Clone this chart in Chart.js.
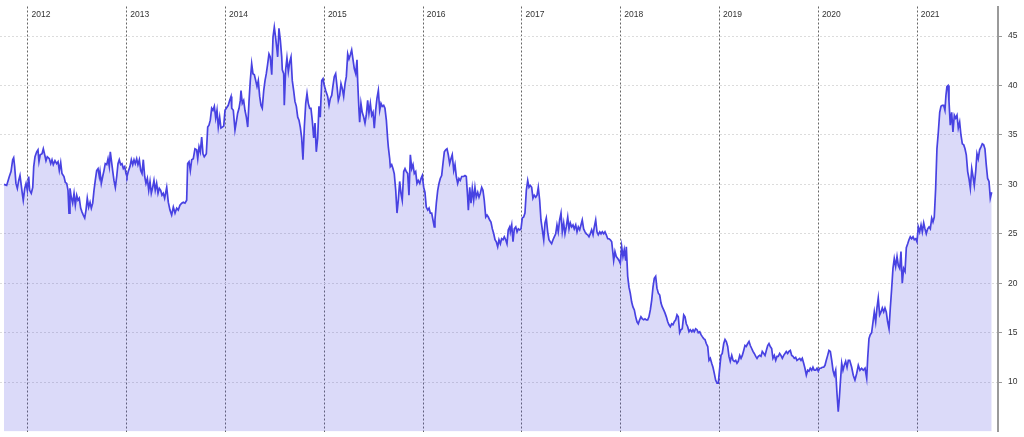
<!DOCTYPE html>
<html>
<head>
<meta charset="utf-8">
<script src="https://cdn.jsdelivr.net/npm/chart.js@4.4.1/dist/chart.umd.min.js"></script>
<style>
  html, body { margin: 0; padding: 0; background: #ffffff; }
  #wrap { width: 1024px; height: 437px; }
</style>
</head>
<body>
<div id="wrap"><canvas id="c" width="1024" height="437"></canvas></div>
<script>
// ---- Data: [decimal year, price] ----
const p2011_2013 = [
[2011.757,30.0],[2011.784,29.9],[2011.811,30.8],[2011.828,31.3],[2011.845,32.5],[2011.855,32.7],[2011.865,31.8],[2011.878,30.1],[2011.892,29.6],[2011.906,30.4],[2011.919,30.9],[2011.932,29.9],[2011.942,29.1],[2011.952,28.4],[2011.967,29.6],[2011.980,30.1],[2011.993,29.4],
[2012.007,30.8],[2012.017,29.4],[2012.033,29.1],[2012.048,29.7],[2012.058,31.8],[2012.071,32.8],[2012.088,33.3],[2012.101,33.5],[2012.111,32.3],[2012.124,33.0],[2012.142,33.1],[2012.155,33.6],[2012.169,33.0],[2012.182,32.4],[2012.195,32.8],[2012.216,32.6],[2012.230,32.1],[2012.243,32.5],[2012.256,32.0],[2012.273,32.4],[2012.290,32.1],[2012.304,32.3],[2012.317,31.4],[2012.331,32.2],[2012.344,31.1],[2012.364,30.8],[2012.378,30.2],[2012.392,30.1],[2012.405,29.4],[2012.415,27.1],[2012.425,29.6],[2012.438,28.7],[2012.452,28.1],[2012.466,29.1],[2012.479,27.9],[2012.493,28.9],[2012.506,28.4],[2012.519,28.6],[2012.533,27.6],[2012.547,27.2],[2012.560,26.9],[2012.574,26.6],[2012.587,27.4],[2012.600,28.6],[2012.614,27.7],[2012.628,28.2],[2012.641,27.6],[2012.655,28.1],[2012.668,29.4],[2012.681,30.4],[2012.695,31.4],[2012.709,31.6],[2012.722,30.8],[2012.729,31.3],[2012.742,30.1],[2012.756,30.8],[2012.769,31.4],[2012.782,32.1],[2012.797,32.0],[2012.810,32.6],[2012.823,31.8],[2012.833,33.3],[2012.843,32.5],[2012.857,31.4],[2012.870,30.4],[2012.884,29.7],[2012.898,30.8],[2012.911,32.1],[2012.924,32.5],[2012.938,32.0],[2012.951,32.1],[2012.965,31.6],[2012.979,31.8],[2012.992,31.1]
];
const p2013_2015 = [
[2013.002,30.8],[2013.015,31.3],[2013.032,31.8],[2013.046,32.5],[2013.060,32.0],[2013.073,32.5],[2013.086,32.1],[2013.100,32.6],[2013.113,32.0],[2013.127,32.5],[2013.141,31.4],[2013.154,31.1],[2013.167,32.5],[2013.181,30.8],[2013.194,30.1],[2013.208,30.6],[2013.222,29.4],[2013.235,30.3],[2013.248,29.1],[2013.262,29.7],[2013.275,30.4],[2013.288,29.4],[2013.302,30.1],[2013.316,29.1],[2013.329,29.6],[2013.343,29.4],[2013.356,28.9],[2013.369,29.1],[2013.383,28.6],
[2013.404,29.7],[2013.420,28.2],[2013.437,27.4],[2013.454,26.9],[2013.471,27.7],[2013.488,27.1],[2013.505,27.6],[2013.521,27.4],[2013.538,27.9],[2013.556,28.1],[2013.572,28.2],[2013.589,28.1],[2013.606,28.4],[2013.616,32.1],[2013.630,32.3],[2013.643,31.4],[2013.657,32.5],[2013.673,32.6],[2013.690,33.6],[2013.707,33.5],[2013.718,32.6],[2013.731,33.8],[2013.744,33.3],[2013.758,34.8],[2013.771,33.1],[2013.784,32.8],[2013.805,33.1],[2013.819,35.8],[2013.832,36.0],[2013.845,36.5],[2013.859,37.7],[2013.872,37.5],[2013.886,37.9],[2013.900,36.7],[2013.913,37.5],[2013.926,35.8],[2013.940,36.8],[2013.953,35.7],[2013.967,35.8],[2013.981,35.9],[2013.994,37.5],
[2014.007,37.7],[2014.027,38.0],[2014.041,38.5],[2014.055,38.9],[2014.062,37.7],[2014.078,37.5],[2014.095,35.5],[2014.108,36.3],[2014.122,37.2],[2014.136,37.7],[2014.149,38.5],[2014.156,39.5],[2014.169,38.2],[2014.183,38.5],[2014.196,37.5],[2014.210,36.8],[2014.224,35.8],[2014.237,38.4],[2014.250,40.5],[2014.264,42.2],[2014.277,41.2],[2014.291,41.1],[2014.305,40.5],[2014.318,39.9],[2014.331,40.5],[2014.345,38.9],[2014.358,38.0],[2014.371,37.7],[2014.386,39.5],[2014.399,40.5],[2014.412,41.2],[2014.426,42.2],[2014.439,43.2],[2014.452,42.9],[2014.467,41.1],[2014.480,44.9],[2014.493,45.9],[2014.507,44.8],[2014.520,43.6],[2014.527,42.9],[2014.540,45.8],[2014.554,44.6],[2014.568,42.9],[2014.574,41.6],[2014.588,41.2],[2014.594,38.0],[2014.608,41.6],[2014.621,42.8],[2014.635,41.4],[2014.649,42.4],[2014.662,42.9],[2014.675,40.5],[2014.689,39.5],[2014.702,38.4],[2014.716,37.9],[2014.730,36.8],[2014.743,36.5],[2014.756,35.8],[2014.770,34.7],[2014.783,32.5],[2014.797,35.8],[2014.811,38.2],[2014.824,39.2],[2014.837,38.2],[2014.851,37.7],[2014.864,37.7],[2014.877,36.5],[2014.892,34.7],[2014.905,36.2],[2014.918,33.3],[2014.932,34.7],[2014.945,37.9],[2014.958,36.8],[2014.973,40.5],[2014.986,40.7],[2014.999,40.0]
];
const p2015_2017 = [
[2015.013,39.5],[2015.033,38.9],[2015.047,38.0],[2015.060,38.7],[2015.074,39.0],[2015.087,40.0],[2015.100,40.9],[2015.114,41.2],[2015.128,39.9],[2015.141,38.5],[2015.155,39.0],[2015.168,40.2],[2015.181,39.7],[2015.195,38.9],[2015.209,40.2],[2015.222,40.9],[2015.236,43.2],[2015.249,42.7],[2015.262,43.1],[2015.276,43.6],[2015.290,42.6],[2015.303,41.7],[2015.317,41.2],[2015.330,42.6],[2015.337,40.4],[2015.350,37.5],[2015.357,36.3],[2015.370,38.2],[2015.383,37.3],[2015.398,36.8],[2015.411,36.2],[2015.424,37.0],[2015.438,38.5],[2015.451,37.2],[2015.465,38.2],[2015.479,37.0],[2015.492,37.3],[2015.505,35.7],[2015.519,37.5],[2015.532,38.7],[2015.546,39.5],[2015.560,37.5],[2015.573,38.2],[2015.586,37.9],[2015.600,38.0],[2015.613,37.7],[2015.627,36.5],[2015.641,34.5],[2015.647,33.8],[2015.661,32.6],[2015.667,31.8],[2015.681,32.0],[2015.694,31.6],[2015.707,31.1],[2015.722,29.4],[2015.735,27.1],[2015.748,28.4],[2015.762,30.3],[2015.775,29.1],[2015.788,28.4],[2015.803,31.3],[2015.816,31.6],[2015.829,31.3],[2015.843,31.1],[2015.856,28.9],[2015.870,33.0],[2015.884,31.6],[2015.897,32.0],[2015.910,31.1],[2015.924,31.3],[2015.937,30.1],[2015.950,30.4],[2015.965,30.1],[2015.978,30.6],[2015.991,30.9],
[2016.005,29.7],[2016.018,29.2],[2016.031,27.7],[2016.046,27.4],[2016.059,27.6],[2016.072,27.1],[2016.086,27.1],[2016.099,26.4],[2016.112,25.7],[2016.119,26.4],[2016.133,28.1],[2016.147,29.4],[2016.160,30.1],[2016.173,30.6],[2016.187,30.9],[2016.200,32.1],[2016.214,33.3],[2016.228,33.5],[2016.241,33.6],[2016.254,33.0],[2016.268,32.1],[2016.281,32.6],[2016.294,33.0],[2016.309,31.4],[2016.322,32.0],[2016.335,30.8],[2016.349,30.1],[2016.362,30.6],[2016.375,30.4],[2016.390,30.8],[2016.410,30.8],[2016.423,30.9],[2016.436,30.8],[2016.450,28.7],[2016.457,27.4],[2016.471,29.7],[2016.484,28.1],[2016.497,29.6],[2016.511,28.4],[2016.524,29.7],[2016.537,28.7],[2016.552,29.2],[2016.565,28.7],[2016.578,29.1],[2016.592,29.7],[2016.605,29.4],[2016.618,28.4],[2016.633,26.7],[2016.646,26.9],[2016.659,26.7],[2016.673,26.4],[2016.686,26.2],[2016.700,25.5],[2016.714,25.0],[2016.727,24.4],[2016.740,24.2],[2016.754,23.7],[2016.767,24.4],[2016.781,24.0],[2016.794,24.5],[2016.808,24.4],[2016.821,24.7],[2016.835,24.4],[2016.848,24.0],[2016.861,25.4],[2016.875,25.7],[2016.882,25.2],[2016.896,25.9],[2016.909,24.2],[2016.922,25.5],[2016.937,25.7],[2016.950,25.2],[2016.963,25.5],[2016.977,25.4],[2016.990,25.5]
];
const p2017_2019 = [
[2017.003,26.6],[2017.017,26.7],[2017.030,27.1],[2017.044,29.4],[2017.058,30.4],[2017.071,29.7],[2017.084,29.9],[2017.098,29.7],[2017.111,28.6],[2017.124,28.9],[2017.139,28.7],[2017.152,28.9],[2017.165,29.7],[2017.179,28.4],[2017.192,26.4],[2017.206,25.4],[2017.220,24.4],[2017.233,26.1],[2017.246,26.6],[2017.260,25.2],[2017.273,24.4],[2017.286,24.2],[2017.300,24.0],[2017.314,24.4],[2017.327,24.7],[2017.341,25.0],[2017.354,25.9],[2017.367,25.2],[2017.381,26.4],[2017.395,27.1],[2017.408,25.2],[2017.422,26.1],[2017.435,25.0],[2017.448,25.7],[2017.463,26.7],[2017.476,25.5],[2017.489,26.1],[2017.503,25.7],[2017.516,25.9],[2017.529,25.5],[2017.544,25.9],[2017.557,25.2],[2017.570,25.7],[2017.584,25.4],[2017.597,25.9],[2017.610,26.4],[2017.624,25.5],[2017.638,25.2],[2017.651,25.0],[2017.665,24.9],[2017.678,24.7],[2017.691,25.0],[2017.705,25.4],[2017.719,24.9],[2017.732,25.7],[2017.746,26.4],[2017.759,25.2],[2017.772,24.9],[2017.787,25.2],[2017.800,25.0],[2017.813,25.2],[2017.827,25.0],[2017.840,25.2],[2017.853,24.9],[2017.868,24.5],[2017.881,24.5],[2017.894,24.4],[2017.908,24.2],[2017.921,23.0],[2017.928,22.3],[2017.941,23.2],[2017.954,22.7],[2017.969,22.5],[2017.982,22.3],[2017.995,22.0],
[2018.009,23.7],[2018.022,22.7],[2018.035,23.4],[2018.050,22.3],[2018.056,23.7],[2018.070,20.7],[2018.083,19.6],[2018.096,19.0],[2018.110,18.1],[2018.123,17.6],[2018.137,17.3],[2018.151,16.6],[2018.164,16.1],[2018.177,15.9],[2018.191,16.3],[2018.204,16.6],[2018.218,16.4],[2018.232,16.3],[2018.245,16.4],[2018.258,16.3],[2018.272,16.3],[2018.285,16.6],[2018.299,17.3],[2018.313,18.3],[2018.326,19.6],[2018.339,20.5],[2018.353,20.7],[2018.366,19.5],[2018.380,19.0],[2018.394,18.8],[2018.407,18.0],[2018.420,17.6],[2018.434,17.3],[2018.447,17.0],[2018.461,16.6],[2018.475,16.1],[2018.488,15.8],[2018.501,15.6],[2018.515,15.9],[2018.528,15.8],[2018.541,16.1],[2018.556,16.3],[2018.569,16.8],[2018.582,16.6],[2018.596,15.0],[2018.609,15.3],[2018.622,15.4],[2018.637,16.8],[2018.650,16.6],[2018.663,15.9],[2018.677,15.6],[2018.690,15.1],[2018.703,15.3],[2018.718,15.1],[2018.731,15.3],[2018.744,15.1],[2018.758,15.4],[2018.771,15.3],[2018.784,15.0],[2018.799,15.1],[2018.812,14.8],[2018.825,14.6],[2018.839,14.4],[2018.852,14.3],[2018.865,13.9],[2018.880,13.6],[2018.893,12.2],[2018.906,12.4],[2018.920,11.9],[2018.933,11.5],[2018.946,10.9],[2018.960,10.2],[2018.974,9.9],[2018.987,9.9]
];
const p2019_2021 = [
[2019.001,11.4],[2019.014,12.7],[2019.027,12.9],[2019.042,13.9],[2019.055,14.3],[2019.068,14.1],[2019.082,13.6],[2019.095,12.6],[2019.108,12.1],[2019.123,12.7],[2019.136,12.2],[2019.149,12.1],[2019.163,12.2],[2019.176,11.9],[2019.189,12.1],[2019.204,12.7],[2019.217,12.4],[2019.230,12.7],[2019.244,13.2],[2019.257,13.7],[2019.270,13.6],[2019.285,13.9],[2019.298,14.1],[2019.311,13.7],[2019.325,13.4],[2019.338,13.1],[2019.351,12.9],[2019.366,12.6],[2019.379,12.4],[2019.392,12.6],[2019.406,12.7],[2019.419,12.6],[2019.432,13.1],[2019.447,12.9],[2019.460,12.7],[2019.473,13.2],[2019.487,13.7],[2019.500,13.9],[2019.513,13.6],[2019.527,13.4],[2019.540,12.4],[2019.554,12.7],[2019.568,12.2],[2019.581,12.6],[2019.594,12.6],[2019.608,12.9],[2019.621,12.7],[2019.635,12.4],[2019.649,12.7],[2019.662,12.9],[2019.675,13.1],[2019.689,12.9],[2019.702,13.1],[2019.716,13.2],[2019.730,12.7],[2019.743,12.6],[2019.756,12.4],[2019.770,12.5],[2019.783,12.2],[2019.797,12.3],[2019.811,12.4],[2019.824,12.2],[2019.837,12.4],[2019.851,11.9],[2019.864,11.4],[2019.878,10.7],[2019.892,11.2],[2019.905,11.1],[2019.918,11.4],[2019.932,11.2],[2019.945,11.5],[2019.958,11.2],[2019.973,11.2],[2019.986,11.4],[2019.999,11.1],
[2020.013,11.4],[2020.026,11.4],[2020.039,11.5],[2020.054,11.5],[2020.067,11.7],[2020.080,12.2],[2020.094,12.7],[2020.107,13.2],[2020.121,13.1],[2020.135,12.2],[2020.148,11.2],[2020.161,10.7],[2020.175,11.2],[2020.188,8.9],[2020.201,7.0],[2020.211,8.2],[2020.222,9.9],[2020.236,11.9],[2020.249,11.2],[2020.262,11.7],[2020.276,12.1],[2020.290,11.5],[2020.303,12.2],[2020.317,12.2],[2020.337,11.5],[2020.353,10.7],[2020.370,10.2],[2020.388,10.9],[2020.404,11.7],[2020.421,11.2],[2020.438,11.4],[2020.454,11.2],[2020.472,11.4],[2020.489,10.4],[2020.499,12.4],[2020.512,14.4],[2020.525,14.8],[2020.539,15.0],[2020.553,16.1],[2020.566,17.1],[2020.580,16.1],[2020.593,17.5],[2020.606,18.5],[2020.620,16.8],[2020.634,17.1],[2020.647,17.5],[2020.661,17.1],[2020.674,17.5],[2020.687,17.1],[2020.701,16.1],[2020.715,15.4],[2020.728,17.5],[2020.742,19.5],[2020.755,21.5],[2020.768,22.5],[2020.782,21.7],[2020.796,22.7],[2020.809,21.8],[2020.823,21.5],[2020.836,23.2],[2020.849,20.0],[2020.863,21.5],[2020.877,21.2],[2020.890,23.6],[2020.904,24.0],[2020.917,24.4],[2020.930,24.7],[2020.944,24.5],[2020.958,24.7],[2020.971,24.4],[2020.985,24.5],[2020.998,24.2],
[2021.011,25.7],[2021.025,25.2],[2021.039,25.9],[2021.052,25.2],[2021.066,26.1],[2021.079,25.5],[2021.092,25.0],[2021.106,25.5],[2021.120,25.7],[2021.133,25.5],[2021.147,26.6],[2021.160,26.2],[2021.173,26.7],[2021.187,29.6],[2021.200,33.6],[2021.214,35.3],[2021.228,37.3],[2021.241,37.9],[2021.254,38.0],[2021.268,38.0],[2021.281,37.5],[2021.291,39.0],[2021.301,39.9],[2021.312,40.0],[2021.322,38.4],[2021.335,36.0],[2021.349,37.3],[2021.362,35.3],[2021.376,37.0],[2021.390,36.7],[2021.403,37.0],[2021.416,35.7],[2021.430,36.3],[2021.443,35.0],[2021.457,34.1],[2021.471,34.0],[2021.484,33.6],[2021.497,33.0],[2021.511,31.3],[2021.524,30.6],[2021.538,29.6],[2021.552,31.6],[2021.565,30.8],[2021.578,29.9],[2021.592,31.3],[2021.605,33.1],[2021.618,32.6],[2021.632,33.5],[2021.646,33.8],[2021.659,34.1],[2021.673,34.0],[2021.686,33.6],[2021.699,32.0],[2021.713,30.6],[2021.727,30.3],[2021.740,28.6],[2021.754,29.2]
];

const yearTicks  = [2012, 2013, 2014, 2015, 2016, 2017, 2018, 2019, 2020, 2021];
const priceTicks = [10, 15, 20, 25, 30, 35, 40, 45];
const xRange = [2011.7166, 2021.818];
const yRange = [5, 48];

const series = [].concat(p2011_2013, p2013_2015, p2015_2017, p2017_2019, p2019_2021)
  .map(([x, y]) => ({ x, y }));

const FONT = '"Liberation Sans", Arial, Helvetica, sans-serif';

const yearLabels = {
  id: 'yearLabels',
  afterDatasetsDraw(chart) {
    const xs = chart.scales.x;
    const ctx = chart.ctx;
    ctx.save();
    ctx.font = '8.5px ' + FONT;
    ctx.fillStyle = '#333333';
    ctx.textAlign = 'left';
    ctx.textBaseline = 'middle';
    yearTicks.forEach(y => {
      const px = xs.getPixelForValue(y);
      ctx.fillText(String(y), px + 3.5, chart.chartArea.top + 8.3);
    });
    ctx.restore();
  }
};

function noPad(s) {
  s.paddingTop = 0; s.paddingBottom = 0; s.paddingLeft = 0; s.paddingRight = 0;
}

new Chart(document.getElementById('c'), {
  type: 'line',
  data: {
    datasets: [{
      data: series,
      borderColor: '#4842e2',
      borderWidth: 1.7,
      backgroundColor: 'rgba(75, 70, 225, 0.2)',
      fill: 'start',
      pointRadius: 0,
      tension: 0
    }]
  },
  options: {
    responsive: false,
    animation: false,
    devicePixelRatio: 1,
    layout: { padding: { left: 0, right: 0, top: 6.5, bottom: 5.5 } },
    plugins: { legend: { display: false }, tooltip: { enabled: false } },
    scales: {
      x: {
        type: 'linear',
        min: xRange[0],
        max: xRange[1],
        afterBuildTicks: s => { s.ticks = yearTicks.map(v => ({ value: v })); },
        afterFit: s => { s.height = 0; noPad(s); },
        ticks: { display: false },
        grid: { color: '#666666', lineWidth: 1, drawTicks: false },
        border: { display: false, dash: [2, 2] }
      },
      y: {
        position: 'right',
        min: yRange[0],
        max: yRange[1],
        afterBuildTicks: s => { s.ticks = priceTicks.map(v => ({ value: v })); },
        afterFit: s => { s.width = 26; noPad(s); },
        ticks: { color: '#333333', font: { size: 8.5, family: FONT }, padding: 6 },
        grid: { color: '#dcdcdc', lineWidth: 1, drawTicks: true, tickLength: 4, tickColor: '#9a9a9a', tickBorderDash: [] },
        border: { display: true, color: '#9a9a9a', width: 2, dash: [2, 2] }
      }
    }
  },
  plugins: [yearLabels]
});
</script>
</body>
</html>
